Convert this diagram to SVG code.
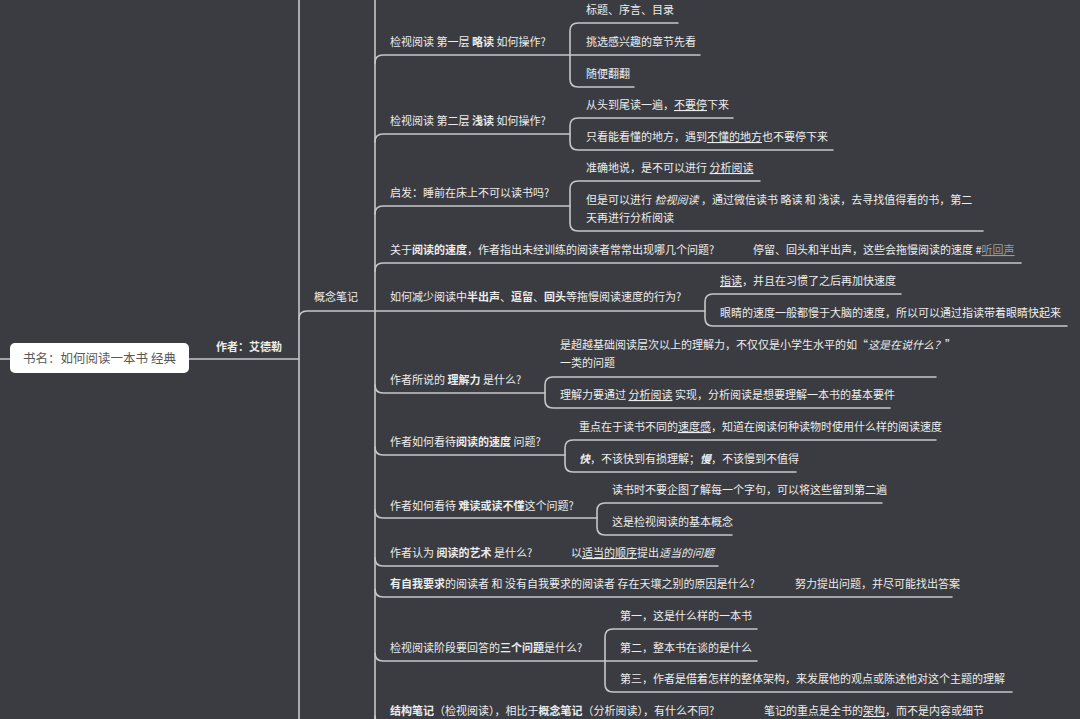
<svg xmlns="http://www.w3.org/2000/svg" width="1080" height="719" viewBox="0 0 1080 719">
<style>
.bg{fill:#3a3c41}
.ln{fill:none;stroke:#c6c6c6;stroke-width:1.6;stroke-linecap:round}
text{font-family:"Noto Sans CJK SC","Noto Sans",sans-serif;font-size:11px;fill:#ececec}
.b{font-weight:bold}
.i{font-style:italic}
.u{text-decoration:underline}
.lk{fill:#9a9a9a;text-decoration:underline}
.root{font-size:12.5px;fill:#585858}
</style>
<rect class="bg" x="0" y="0" width="1080" height="719"/>
<g id="connectors">
<path class="ln" d="M299,0 V719 M375,0 V719"/>
<path class="ln" d="M0,359 H10 M189,359 H299"/>
<path class="ln" d="M299,319 Q299,311 307,311 H705"/>
<path class="ln" d="M375,63 Q375,55 383,55 H570"/>
<path class="ln" d="M375,142 Q375,134 383,134 H570"/>
<path class="ln" d="M375,214 Q375,206 383,206 H570"/>
<path class="ln" d="M375,271 Q375,263 383,263 H1021"/>
<path class="ln" d="M375,385 Q375,393 383,393 H545"/>
<path class="ln" d="M375,447 Q375,455 383,455 H565"/>
<path class="ln" d="M375,510 Q375,518 383,518 H597"/>
<path class="ln" d="M375,558 Q375,566 383,566 H718"/>
<path class="ln" d="M375,589 Q375,597 383,597 H952"/>
<path class="ln" d="M375,653 Q375,661 383,661 H605"/>
<path class="ln" d="M375,716 Q375,724 383,724 H1000"/>
<path class="ln" d="M570,31 Q570,23 578,23 H678 M570,31 V79 M570,79 Q570,87 578,87 H634 M570,55 H700"/>
<path class="ln" d="M570,126 Q570,118 578,118 H733 M570,126 V142 M570,142 Q570,150 578,150 H833"/>
<path class="ln" d="M570,189 Q570,181 578,181 H760 M570,189 V223 M570,223 Q570,231 578,231 H983"/>
<path class="ln" d="M705,302 Q705,294 713,294 H901 M705,302 V318 M705,318 Q705,326 713,326 H1067"/>
<path class="ln" d="M545,385 Q545,377 553,377 H936 M545,385 V400 M545,400 Q545,408 553,408 H890"/>
<path class="ln" d="M565,448 Q565,440 573,440 H936 M565,448 V464 M565,464 Q565,472 573,472 H796"/>
<path class="ln" d="M597,511 Q597,503 605,503 H882 M597,511 V527 M597,527 Q597,535 605,535 H732"/>
<path class="ln" d="M605,637 Q605,629 613,629 H757 M605,637 V684 M605,684 Q605,692 613,692 H1012 M605,661 H757"/>
</g>
<g id="root">
<rect x="10" y="343" width="179" height="30" rx="5" fill="#ffffff"/>
<text class="root" x="99.5" y="362.5" text-anchor="middle">书名：如何阅读一本书 经典</text>
</g>
<g id="author"><text class="b" x="216" y="351">作者：艾德勒</text></g>
<g id="concept"><text x="314" y="301">概念笔记</text></g>
<g id="q1">
<text x="390" y="46">检视阅读 第一层 <tspan class="b">略读</tspan> 如何操作?</text>
<text x="586" y="14">标题、序言、目录</text>
<text x="586" y="46">挑选感兴趣的章节先看</text>
<text x="586" y="78">随便翻翻</text>
</g>
<g id="q2">
<text x="390" y="125">检视阅读 第二层 <tspan class="b">浅读</tspan> 如何操作?</text>
<text x="586" y="109">从头到尾读一遍，<tspan class="u">不要停</tspan>下来</text>
<text x="586" y="141">只看能看懂的地方，遇到<tspan class="u">不懂的地方</tspan>也不要停下来</text>
</g>
<g id="q3">
<text x="390" y="197">启发：睡前在床上不可以读书吗?</text>
<text x="586" y="172">准确地说，是不可以进行 <tspan class="u">分析阅读</tspan></text>
<text x="586" y="204">但是可以进行 <tspan class="i">检视阅读</tspan> ，通过微信读书 略读 和 浅读，去寻找值得看的书，第二</text>
<text x="586" y="222">天再进行分析阅读</text>
</g>
<g id="q4">
<text x="390" y="254">关于<tspan class="b">阅读的速度</tspan>，作者指出未经训练的阅读者常常出现哪几个问题?</text>
<text x="753" y="254">停留、回头和半出声，这些会拖慢阅读的速度 #<tspan class="lk">听回声</tspan></text>
</g>
<g id="q5">
<text x="390" y="301">如何减少阅读中<tspan class="b">半出声</tspan>、<tspan class="b">逗留</tspan>、<tspan class="b">回头</tspan>等拖慢阅读速度的行为?</text>
<text x="720" y="285"><tspan class="u">指读</tspan>，并且在习惯了之后再加快速度</text>
<text x="720" y="317">眼睛的速度一般都慢于大脑的速度，所以可以通过指读带着眼睛快起来</text>
</g>
<g id="q6">
<text x="390" y="384">作者所说的 <tspan class="b">理解力</tspan> 是什么?</text>
<text x="560" y="349">是超越基础阅读层次以上的理解力，不仅仅是小学生水平的如“<tspan class="i">这是在说什么？</tspan>”</text>
<text x="560" y="367">一类的问题</text>
<text x="560" y="399">理解力要通过 <tspan class="u">分析阅读</tspan> 实现，分析阅读是想要理解一本书的基本要件</text>
</g>
<g id="q7">
<text x="390" y="446">作者如何看待<tspan class="b">阅读的速度</tspan> 问题?</text>
<text x="579" y="431">重点在于读书不同的<tspan class="u">速度感</tspan>，知道在阅读何种读物时使用什么样的阅读速度</text>
<text x="579" y="463"><tspan class="b i">快</tspan>，不该快到有损理解；<tspan class="b i">慢</tspan>，不该慢到不值得</text>
</g>
<g id="q8">
<text x="390" y="510">作者如何看待 <tspan class="b">难读或读不懂</tspan>这个问题?</text>
<text x="612" y="494">读书时不要企图了解每一个字句，可以将这些留到第二遍</text>
<text x="612" y="526">这是检视阅读的基本概念</text>
</g>
<g id="q9">
<text x="390" y="557">作者认为 <tspan class="b">阅读的艺术</tspan> 是什么?</text>
<text x="571" y="557">以<tspan class="u">适当的顺序</tspan>提出<tspan class="i">适当的问题</tspan></text>
</g>
<g id="q10">
<text x="390" y="588"><tspan class="b">有自我要求</tspan>的阅读者 和 没有自我要求的阅读者 存在天壤之别的原因是什么?</text>
<text x="795" y="588">努力提出问题，并尽可能找出答案</text>
</g>
<g id="q11">
<text x="390" y="652">检视阅读阶段要回答的<tspan class="b">三个问题</tspan>是什么?</text>
<text x="620" y="620">第一，这是什么样的一本书</text>
<text x="620" y="652">第二，整本书在谈的是什么</text>
<text x="620" y="683">第三，作者是借着怎样的整体架构，来发展他的观点或陈述他对这个主题的理解</text>
</g>
<g id="q12">
<text x="390" y="715"><tspan class="b">结构笔记</tspan>（检视阅读），相比于<tspan class="b">概念笔记</tspan>（分析阅读），有什么不同?</text>
<text x="764" y="715">笔记的重点是全书的<tspan class="u">架构</tspan>，而不是内容或细节</text>
</g>
</svg>
